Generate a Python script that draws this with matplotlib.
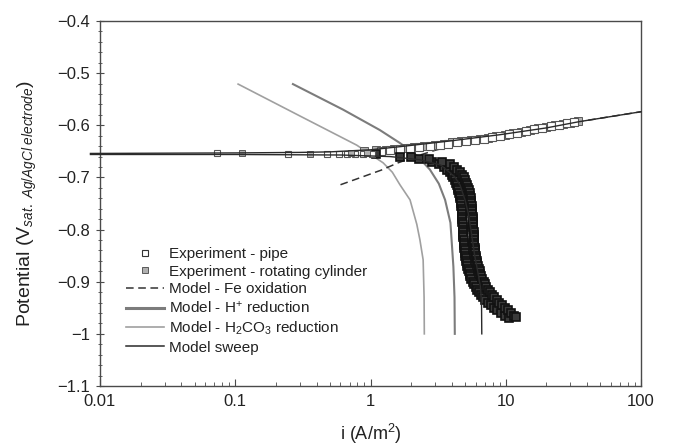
import matplotlib
matplotlib.use("Agg")
import matplotlib.pyplot as plt
from matplotlib.lines import Line2D
from matplotlib.ticker import FixedLocator, FixedFormatter, LogLocator, NullFormatter, MultipleLocator

plt.rcParams['font.family'] = ['Liberation Sans', 'DejaVu Sans']
plt.rcParams['mathtext.fontset'] = 'custom'
plt.rcParams['mathtext.rm'] = 'Liberation Sans'
plt.rcParams['mathtext.it'] = 'Liberation Sans:italic'

# ---- experiment: pipe ----
pipe_i_low = [0.073, 0.245, 0.48, 0.58, 0.67, 0.77, 0.88, 1.02]
pipe_E_low = [-0.654, -0.655, -0.655, -0.656, -0.655, -0.656, -0.655, -0.656]

pipe_i_anod = [1.2, 1.4, 1.65, 1.95, 2.3, 2.75, 3.25, 3.75, 4.35, 5.1, 5.9, 6.9,
               7.9, 9.1, 10.5, 12.1, 14.0, 16.1, 18.6, 21.5, 24.7, 28.3, 32.0]
pipe_E_anod = [-0.649, -0.647, -0.645, -0.643, -0.641, -0.639, -0.637, -0.635,
               -0.633, -0.631, -0.628, -0.626, -0.623, -0.620, -0.617, -0.614,
               -0.611, -0.608, -0.605, -0.602, -0.599, -0.596, -0.594]

pipe_E_cath = [-0.655, -0.660, -0.665, -0.670, -0.675, -0.680, -0.685, -0.690,
               -0.695, -0.700, -0.705, -0.710, -0.715, -0.720, -0.725, -0.730,
               -0.735, -0.740, -0.745, -0.750, -0.755, -0.760, -0.765, -0.770,
               -0.775, -0.780, -0.785, -0.790, -0.795, -0.800, -0.805, -0.810,
               -0.815, -0.820, -0.825, -0.830, -0.835, -0.840, -0.845, -0.850,
               -0.855, -0.860, -0.865, -0.870, -0.875, -0.880, -0.885, -0.890,
               -0.895, -0.900, -0.905, -0.910, -0.915, -0.920, -0.925, -0.930,
               -0.935, -0.940, -0.945, -0.950, -0.955, -0.960, -0.965, -0.970]
pipe_i_cath = [1.1, 1.65, 2.3, 2.85, 3.2, 3.5, 3.7, 3.85,
               3.98, 4.1, 4.19, 4.28, 4.35, 4.42, 4.47, 4.53,
               4.57, 4.62, 4.65, 4.67, 4.69, 4.71, 4.73, 4.74,
               4.76, 4.77, 4.78, 4.79, 4.81, 4.82, 4.84, 4.85,
               4.87, 4.88, 4.90, 4.91, 4.94, 4.97, 5.00, 5.02,
               5.06, 5.11, 5.15, 5.20, 5.26, 5.34, 5.40, 5.47,
               5.58, 5.70, 5.84, 5.98, 6.12, 6.30, 6.53, 6.80,
               7.08, 7.36, 7.73, 8.20, 8.65, 9.20, 9.84, 10.6]

# ---- experiment: rotating cylinder ----
cyl_i_low = [0.112, 0.36, 0.72, 0.95]
cyl_E_low = [-0.654, -0.655, -0.654, -0.653]

cyl_i_anod = [0.9, 1.1, 1.3, 1.5, 1.8, 2.1, 2.5, 3.0, 3.5, 4.0, 4.7, 5.5, 6.4,
              7.4, 8.5, 9.8, 11.3, 13.0, 15.0, 17.3, 20.0, 23.0, 26.5, 30.0, 34.0]
cyl_E_anod = [-0.650, -0.648, -0.647, -0.645, -0.643, -0.641, -0.639, -0.637,
              -0.635, -0.633, -0.631, -0.629, -0.627, -0.624, -0.621, -0.618,
              -0.615, -0.612, -0.609, -0.606, -0.603, -0.600, -0.597, -0.595,
              -0.592]

cyl_E_cath = [-0.660, -0.665, -0.670, -0.675, -0.680, -0.685, -0.690, -0.695,
              -0.700, -0.705, -0.710, -0.715, -0.720, -0.725, -0.730, -0.735,
              -0.740, -0.745, -0.750, -0.755, -0.760, -0.765, -0.770, -0.775,
              -0.780, -0.785, -0.790, -0.795, -0.800, -0.805, -0.810, -0.815,
              -0.820, -0.825, -0.830, -0.835, -0.840, -0.845, -0.850, -0.855,
              -0.860, -0.865, -0.870, -0.875, -0.880, -0.885, -0.890, -0.895,
              -0.900, -0.905, -0.910, -0.915, -0.920, -0.925, -0.930, -0.935,
              -0.940, -0.945, -0.950, -0.955, -0.960, -0.965, -0.968]
cyl_i_cath = [2.0, 2.7, 3.4, 3.85, 4.15, 4.38, 4.6, 4.75,
              4.9, 5.0, 5.1, 5.2, 5.28, 5.34, 5.4, 5.45,
              5.5, 5.54, 5.58, 5.6, 5.63, 5.65, 5.67, 5.68,
              5.7, 5.72, 5.73, 5.75, 5.76, 5.78, 5.8, 5.82,
              5.83, 5.85, 5.87, 5.9, 5.94, 5.97, 6.0, 6.05,
              6.1, 6.15, 6.2, 6.3, 6.4, 6.5, 6.6, 6.72,
              6.85, 7.02, 7.2, 7.4, 7.6, 7.9, 8.2, 8.55,
              8.9, 9.35, 9.8, 10.4, 11.0, 11.5, 12.0]

# ---- model curves ----
fe_i = [0.6, 0.85, 1.2, 1.6, 2.2, 3.0, 4.5, 9.1, 20.0, 35.0, 100.0]
fe_E = [-0.714, -0.700, -0.686, -0.672, -0.659, -0.648, -0.636, -0.619,
        -0.605, -0.593, -0.574]

hplus_i = [0.267, 0.627, 1.17, 1.65, 2.2, 2.75, 3.2, 3.56, 3.9, 4.1, 4.18, 4.2]
hplus_E = [-0.521, -0.570, -0.609, -0.634, -0.658, -0.685, -0.712, -0.743,
           -0.787, -0.871, -0.930, -1.0]

h2co3_i = [0.105, 0.30, 0.79, 1.24, 1.45, 1.65, 1.96, 2.2, 2.32, 2.45, 2.49, 2.5]
h2co3_E = [-0.521, -0.582, -0.638, -0.672, -0.690, -0.714, -0.743, -0.790,
           -0.820, -0.858, -0.930, -1.0]

sweep_cath_i = [6.65, 6.62, 6.5, 6.2, 5.9, 5.6, 5.3, 5.0, 4.6, 4.2, 3.3, 2.3,
                1.4, 0.6, 0.1, 0.0085]
sweep_cath_E = [-1.0, -0.94, -0.91, -0.88, -0.85, -0.81, -0.77, -0.743,
                -0.715, -0.699, -0.676, -0.666, -0.660, -0.657, -0.656, -0.656]
sweep_anod_i = [0.0085, 0.1, 0.3, 0.5, 1.0, 1.65, 3.9, 9.1, 20.0, 35.0, 100.0]
sweep_anod_E = [-0.654, -0.653, -0.652, -0.651, -0.647, -0.641, -0.630,
                -0.618, -0.605, -0.593, -0.574]

x_ticks = [0.01, 0.1, 1, 10, 100]
x_labels = ['0.01', '0.1', '1', '10', '100']
y_ticks = [-0.4, -0.5, -0.6, -0.7, -0.8, -0.9, -1.0, -1.1]
y_labels = ['\u22120.4', '\u22120.5', '\u22120.6', '\u22120.7', '\u22120.8',
            '\u22120.9', '\u22121', '\u22121.1']

W, H = 673, 446
fig = plt.figure(figsize=(W / 100, H / 100), dpi=100)
ax = fig.add_axes([100 / W, 1 - 386 / H, 541 / W, 365 / H])

c_hplus = '#7c7c7c'
c_h2co3 = '#a0a0a0'
c_sweep = '#2a2a2a'
c_fe = '#333333'

ax.plot(h2co3_i, h2co3_E, color=c_h2co3, lw=1.2, zorder=2)
ax.plot(hplus_i, hplus_E, color=c_hplus, lw=1.5, zorder=2)
ax.plot(fe_i, fe_E, color=c_fe, lw=1.1, ls=(0, (5, 3)), zorder=2)

pipe_kw = dict(ls='none', marker='s', ms=5, mfc='white', mec='#1e1e1e', mew=0.8)
cyl_kw = dict(ls='none', marker='s', ms=5, mfc='#b0b0b0', mec='#5a5a5a', mew=0.7)
band_kw = dict(ls='none', marker='s', ms=5.5, mfc='#3a3a3a', mec='#111111', mew=1.2)

ax.plot(cyl_i_anod, cyl_E_anod, zorder=3, **dict(cyl_kw, ms=6))
ax.plot(pipe_i_anod, pipe_E_anod, zorder=3, **dict(pipe_kw, ms=6, mec='#555555'))
ax.plot(pipe_i_low, pipe_E_low, zorder=4, **dict(pipe_kw, mec='#555555'))
ax.plot(cyl_i_low, cyl_E_low, zorder=4, **cyl_kw)
ax.plot(pipe_i_cath, pipe_E_cath, zorder=3, **band_kw)
ax.plot(cyl_i_cath, cyl_E_cath, zorder=3, **band_kw)

ax.plot(sweep_cath_i, sweep_cath_E, color=c_sweep, lw=1.0, zorder=5, clip_on=False)
ax.plot(sweep_anod_i, sweep_anod_E, color=c_sweep, lw=1.0, zorder=5, clip_on=False)

ax.set_xscale('log')
ax.set_xlim(0.01, 100)
ax.set_ylim(-1.1, -0.4)

ax.xaxis.set_major_locator(FixedLocator(x_ticks))
ax.xaxis.set_major_formatter(FixedFormatter(x_labels))
ax.xaxis.set_minor_locator(LogLocator(base=10, subs=range(2, 10)))
ax.xaxis.set_minor_formatter(NullFormatter())
ax.yaxis.set_major_locator(FixedLocator(y_ticks))
ax.yaxis.set_major_formatter(FixedFormatter(y_labels))
ax.yaxis.set_minor_locator(MultipleLocator(0.02))

for s in ax.spines.values():
    s.set_color('#4a4a4a')
    s.set_linewidth(1.0)
ax.tick_params(axis='x', which='major', direction='in', length=5, width=0.8,
               color='#4a4a4a', labelsize=12, labelcolor='#222222', pad=6)
ax.tick_params(axis='x', which='minor', direction='in', length=3, width=0.6,
               color='#4a4a4a')
ax.tick_params(axis='y', which='major', direction='inout', length=6, width=0.8,
               color='#4a4a4a', labelsize=12, labelcolor='#222222', pad=4)
ax.tick_params(axis='y', which='minor', direction='inout', length=3, width=0.6,
               color='#4a4a4a')

ax.set_xlabel(r'i (A/m$^{\mathregular{2}}$)', fontsize=13, color='#222222')
ax.set_ylabel(r'Potential (V$_{\mathit{sat.\ Ag/AgCl\ electrode}}$)',
              fontsize=14, color='#222222')
ax.xaxis.set_label_coords(0.5, -0.098)
ax.yaxis.set_label_coords(-0.112, 0.5)

handles = [
    Line2D([], [], **dict(pipe_kw, mec='#333333')),
    Line2D([], [], **cyl_kw),
    Line2D([], [], color=c_fe, lw=1.1, ls=(0, (5, 3))),
    Line2D([], [], color=c_hplus, lw=2.2),
    Line2D([], [], color=c_h2co3, lw=1.2),
    Line2D([], [], color=c_sweep, lw=1.1),
]
labels = [
    'Experiment - pipe',
    'Experiment - rotating cylinder',
    'Model - Fe oxidation',
    r'Model - H$^{\mathregular{+}}$ reduction',
    r'Model - H$_{\mathregular{2}}$CO$_{\mathregular{3}}$ reduction',
    'Model sweep',
]
leg = ax.legend(handles, labels, loc='upper left',
                bbox_to_anchor=(126 / W, 1 - 247 / H), bbox_transform=fig.transFigure,
                frameon=False, fontsize=11, handlelength=2.5, handletextpad=0.3,
                labelspacing=0.24, borderpad=0, borderaxespad=0, numpoints=1)
for t in leg.get_texts():
    t.set_color('#222222')

fig.savefig('out.png', dpi=100)
